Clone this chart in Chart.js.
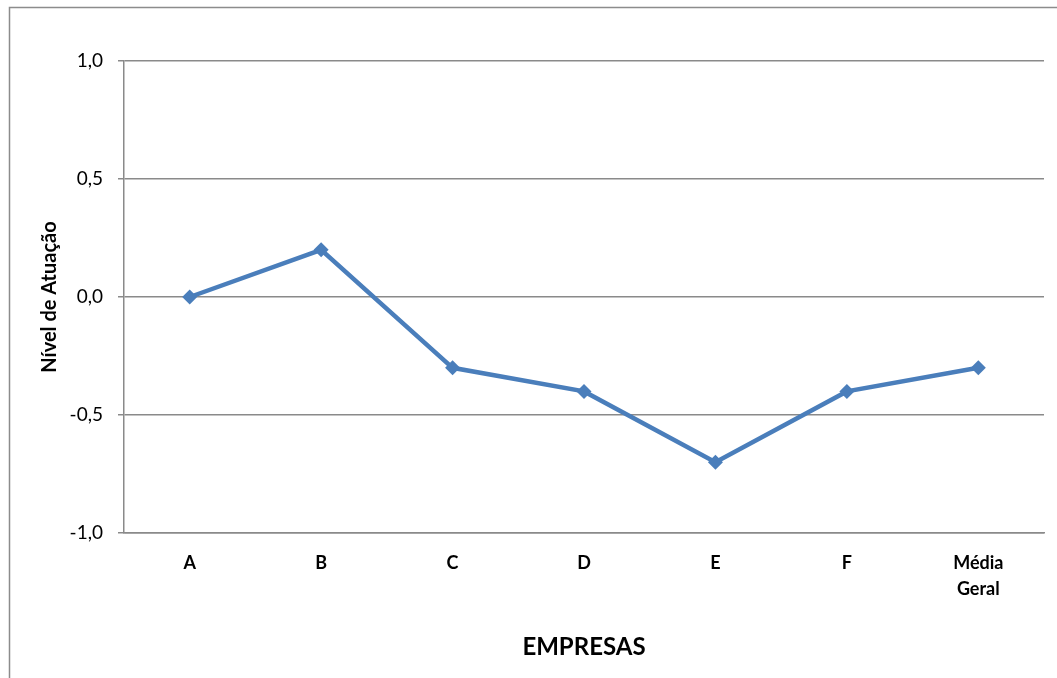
<!DOCTYPE html>
<html>
<head>
<meta charset="utf-8">
<script src="https://cdn.jsdelivr.net/npm/chart.js@4"></script>
<style>
  html, body { margin: 0; padding: 0; background: #ffffff; }
  #wrap { width: 1057px; height: 678px; position: relative; }
</style>
</head>
<body>
<div id="wrap"><canvas id="c" width="1057" height="678"></canvas></div>
<script>
// Categories and values
const empresas = ['A', 'B', 'C', 'D', 'E', 'F', ['Média', 'Geral']];
const nivelAtuacao = [0.0, 0.2, -0.3, -0.4, -0.7, -0.4, -0.3];
const yTicks = [-1.0, -0.5, 0.0, 0.5, 1.0];

const FONT = 'Lato, "Open Sans", "Liberation Sans", sans-serif';
const GRID = '#8a8a8a';
const LINE = '#4a7ebb';

// Frame around the chart (left and top edges)
const framePlugin = {
  id: 'frame',
  beforeDraw(chart) {
    const ctx = chart.ctx;
    ctx.save();
    ctx.strokeStyle = '#8c8c8c';
    ctx.lineWidth = 1.5;
    ctx.beginPath();
    ctx.moveTo(9.5, 678);
    ctx.lineTo(9.5, 7.5);
    ctx.lineTo(1057, 7.5);
    ctx.stroke();
    ctx.restore();
  }
};

new Chart(document.getElementById('c'), {
  type: 'line',
  data: {
    labels: empresas,
    datasets: [{
      data: nivelAtuacao,
      borderColor: LINE,
      backgroundColor: LINE,
      borderWidth: 4.5,
      tension: 0,
      pointStyle: 'rectRot',
      pointRadius: 7.5,
      pointHoverRadius: 7.5,
      pointBorderWidth: 0,
      clip: false
    }]
  },
  options: {
    responsive: false,
    animation: false,
    devicePixelRatio: 1,
    layout: { padding: { top: 61, right: 13, left: 0, bottom: 0 } },
    plugins: {
      legend: { display: false },
      tooltip: { enabled: false }
    },
    scales: {
      x: {
        offset: true,
        grid: { display: false, drawTicks: false },
        border: { display: true, color: GRID, width: 1.5 },
        ticks: {
          color: '#000',
          font: { family: FONT, size: 18, weight: 'bold', lineHeight: 1.45 },
          padding: 17,
          maxRotation: 0,
          autoSkip: false
        },
        title: {
          display: true,
          text: 'EMPRESAS',
          color: '#000',
          font: { family: FONT, size: 24, weight: 'bold' },
          padding: { top: 0, bottom: 16 }
        },
        afterFit(scale) { scale.height = 678 - 533; }
      },
      y: {
        min: -1,
        max: 1,
        afterBuildTicks(scale) { scale.ticks = yTicks.map(v => ({ value: v })); },
        grid: { color: GRID, lineWidth: 1.5, tickLength: 6, drawTicks: true },
        border: { display: true, color: GRID, width: 1.5 },
        ticks: {
          color: '#000',
          font: { family: FONT, size: 19 },
          padding: 15,
          callback: v => v.toFixed(1).replace('.', ',')
        },
        title: {
          display: true,
          text: 'Nível de Atuação',
          color: '#000',
          font: { family: FONT, size: 20, weight: 'bold' },
          padding: { top: 38, bottom: 0 }
        },
        afterFit(scale) { scale.width = 124; }
      }
    }
  },
  plugins: [framePlugin]
});
</script>
</body>
</html>
